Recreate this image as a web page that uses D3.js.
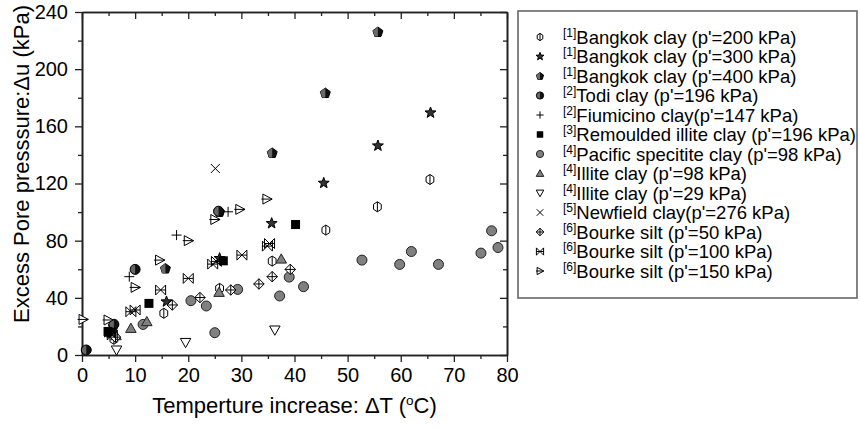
<!DOCTYPE html>
<html><head><meta charset="utf-8">
<script src="https://cdn.jsdelivr.net/npm/d3@7/dist/d3.min.js"></script>
<style>
body{margin:0;background:#fff}
text{font-family:"Liberation Sans",Arial,sans-serif;fill:#000}
</style>
</head><body>
<svg id="chart" width="860" height="430"></svg>
<script>
// ---- tick values ----
const xTicks = [0,10,20,30,40,50,60,70,80];
const xMinor = [5,15,25,35,45,55,65,75];
const yTicks = [0,40,80,120,160,200,240];
const yMinor = [20,60,100,140,180,220];

// ---- series ([ΔT, Δu]) ----
const bangkok200 = [[6.0,11],[15.4,29.2],[25.9,46.6],[35.8,65.7],[45.9,87.4],[55.6,103.7],[65.5,122.8]];
const bangkok300 = [[5.6,15.5],[15.9,37.3],[25.9,67.6],[35.7,92.1],[45.5,120.3],[55.7,146.4],[65.6,169.5]];
const bangkok400 = [[5.9,20.5],[15.7,60.6],[25.9,100.2],[35.8,141.5],[45.8,183.4],[55.7,226.1]];
const todi = [[0.8,3.5],[6.0,21.5],[10.0,59.9],[25.7,100.6]];
const fiumicino = [[8.9,54.8],[17.8,83.9],[27.5,100.2]];
const remoulded = [[4.9,16.5],[5.4,15.5],[12.6,36.1],[26.6,65.9],[40.2,91.3]];
const pacific = [[11.5,21.4],[20.5,38.0],[23.4,34.3],[25.0,15.6],[29.3,45.9],[37.2,41.3],[39.0,54.5],[41.7,47.8],[52.7,66.4],[59.8,63.4],[62.0,72.4],[67.1,63.4],[75.1,71.3],[77.1,86.9],[78.3,75.2]];
const illite98 = [[6.4,13.5],[9.2,18.6],[12.2,23.3],[25.8,43.8],[37.5,67.1]];
const illite29 = [[6.5,3.5],[19.5,8.8],[36.3,17.5]];
const newfield = [[25.1,130.5]];
const bourke50 = [[6.3,12.5],[17.0,35.0],[22.2,40.2],[28.0,45.5],[33.3,49.7],[35.8,54.8],[39.2,59.9]];
const bourke100 = [[5.2,16.0],[5.7,14.0],[9.2,30.3],[10.0,31.5],[14.8,45.5],[20.0,53.6],[24.6,63.6],[25.3,65.5],[30.1,69.9],[34.9,76.2],[35.3,78.0]];
const bourke150 = [[0.2,24.9],[4.9,24.5],[10.0,47.3],[14.6,66.4],[20.0,80.0],[25.0,94.8],[29.7,101.9],[34.8,109.1]];

const seriesRefs = ["1","1","1","2","2","3","4","4","4","5","6","6","6"];
const seriesNames = [
  "Bangkok clay (p'=200 kPa)",
  "Bangkok clay (p'=300 kPa)",
  "Bangkok clay (p'=400 kPa)",
  "Todi clay (p'=196 kPa)",
  "Fiumicino clay(p'=147 kPa)",
  "Remoulded illite clay (p'=196 kPa)",
  "Pacific specitite clay (p'=98 kPa)",
  "Illite clay (p'=98 kPa)",
  "Illite clay (p'=29 kPa)",
  "Newfield clay(p'=276 kPa)",
  "Bourke silt (p'=50 kPa)",
  "Bourke silt (p'=100 kPa)",
  "Bourke silt (p'=150 kPa)"
];
const seriesData = [bangkok200,bangkok300,bangkok400,todi,fiumicino,remoulded,pacific,illite98,illite29,newfield,bourke50,bourke100,bourke150];
const seriesSymbols = ["hex","star","pent","halfcircle","plus","square","circle","tri","tridown","x","diamplus","bowtie","rtri"];

// ---- layout ----
const W = 860, H = 430;
const m = {left:82, right:353, top:12, bottom:75};
const svg = d3.select("#chart");
const x = d3.scaleLinear().domain([0,80]).range([m.left, W - m.right]);
const y = d3.scaleLinear().domain([0,240]).range([H - m.bottom, m.top]);

function starPath(s){
  let p = [];
  for(let i=0;i<10;i++){
    const r = i%2===0 ? s*1.15 : s*0.48;
    const a = -Math.PI/2 + i*Math.PI/5;
    p.push([r*Math.cos(a), r*Math.sin(a)]);
  }
  return "M"+p.map(d=>d[0].toFixed(2)+","+d[1].toFixed(2)).join("L")+"Z";
}
function pentPts(s){
  let p=[];
  for(let i=0;i<5;i++){
    const a=-Math.PI/2+i*2*Math.PI/5;
    p.push([s*1.05*Math.cos(a), s*1.05*Math.sin(a)+s*0.08]);
  }
  return p;
}
function drawSymbol(g, type, s){
  const sw = 1;
  if(type==="hex"){
    const w=0.78*s;
    g.append("path").attr("d",`M0,${-s}L${w},${-s/2}L${w},${s/2}L0,${s}L${-w},${s/2}L${-w},${-s/2}ZM0,${-s}L0,${s}`)
      .attr("fill","#fff").attr("stroke","#000").attr("stroke-width",sw);
  } else if(type==="star"){
    g.append("path").attr("d",starPath(s)).attr("fill","#333").attr("stroke","#000").attr("stroke-width",sw);
  } else if(type==="pent"){
    const p=pentPts(s);
    g.append("path").attr("d","M"+p.join("L")+"Z").attr("fill","#111").attr("stroke","#000").attr("stroke-width",sw);
    const left = [[0,p[0][1]],p[4],p[3],[0,p[3][1]]];
    g.append("path").attr("d","M"+left.join("L")+"Z").attr("fill","#6a6a6a");
  } else if(type==="halfcircle"){
    g.append("circle").attr("r",s).attr("fill","#111").attr("stroke","#000").attr("stroke-width",sw);
    g.append("path").attr("d",`M0,${-s+0.6}A${s-0.6},${s-0.6} 0 0 0 0,${s-0.6}Z`).attr("fill","#666");
  } else if(type==="plus"){
    g.append("path").attr("d",`M${-s},0H${s}M0,${-s}V${s}`).attr("stroke","#000").attr("stroke-width",sw).attr("fill","none");
  } else if(type==="square"){
    g.append("rect").attr("x",-s*0.9).attr("y",-s*0.9).attr("width",s*1.8).attr("height",s*1.8).attr("fill","#000");
  } else if(type==="circle"){
    g.append("circle").attr("r",s).attr("fill","#808080").attr("stroke","#222").attr("stroke-width",sw);
  } else if(type==="tri"){
    g.append("path").attr("d",`M0,${-s*1.05}L${s*1.05},${s*0.8}L${-s*1.05},${s*0.8}Z`).attr("fill","#808080").attr("stroke","#222").attr("stroke-width",sw);
  } else if(type==="tridown"){
    g.append("path").attr("d",`M0,${s*1.05}L${s*1.05},${-s*0.8}L${-s*1.05},${-s*0.8}Z`).attr("fill","#fff").attr("stroke","#000").attr("stroke-width",sw);
  } else if(type==="x"){
    const k=s*0.9;
    g.append("path").attr("d",`M${-k},${-k}L${k},${k}M${k},${-k}L${-k},${k}`).attr("stroke","#000").attr("stroke-width",sw).attr("fill","none");
  } else if(type==="diamplus"){
    const k=s*1.05;
    g.append("path").attr("d",`M0,${-k}L${k},0L0,${k}L${-k},0ZM${-k},0H${k}M0,${-k}V${k}`).attr("fill","#fff").attr("stroke","#000").attr("stroke-width",sw);
  } else if(type==="bowtie"){
    const k=s;
    g.append("path").attr("d",`M${-k},${-k}L${k},${k}L${k},${-k}L${-k},${k}ZM${-k},0H${k}`).attr("fill","#fff").attr("fill-opacity",0).attr("stroke","#000").attr("stroke-width",sw);
  } else if(type==="rtri"){
    const k=s;
    g.append("path").attr("d",`M${k*1.05},0L${-k*0.8},${-k}L${-k*0.8},${k}ZM${-k*1.1},0H${k*1.05}`).attr("fill","#fff").attr("stroke","#000").attr("stroke-width",sw);
  }
}

// ---- axes ----
const axisColor = "#222";
function styleAxis(g, labels){
  g.selectAll("path.domain").attr("stroke",axisColor).attr("stroke-width",1.6);
  g.selectAll(".tick line").attr("stroke",axisColor).attr("stroke-width",1.3);
  g.selectAll(".tick text").style("font-size","20px").attr("fill","#000");
  if(!labels) g.selectAll(".tick text").remove();
}
const gx = svg.append("g").attr("transform",`translate(0,${y(0)})`)
  .call(d3.axisBottom(x).tickValues(xTicks).tickSize(7).tickSizeOuter(0).tickPadding(6).tickFormat(d3.format("d")));
styleAxis(gx,true);
const gxm = svg.append("g").attr("transform",`translate(0,${y(0)})`)
  .call(d3.axisBottom(x).tickValues(xMinor).tickSize(4).tickSizeOuter(0));
styleAxis(gxm,false);
const gxt = svg.append("g").attr("transform",`translate(0,${y(240)})`)
  .call(d3.axisTop(x).tickValues(xTicks).tickSize(-7).tickSizeOuter(0));
styleAxis(gxt,false);
const gxtm = svg.append("g").attr("transform",`translate(0,${y(240)})`)
  .call(d3.axisTop(x).tickValues(xMinor).tickSize(-4).tickSizeOuter(0));
styleAxis(gxtm,false);

const gy = svg.append("g").attr("transform",`translate(${x(0)},0)`)
  .call(d3.axisLeft(y).tickValues(yTicks).tickSize(7).tickSizeOuter(0).tickPadding(7).tickFormat(d3.format("d")));
styleAxis(gy,true);
const gym = svg.append("g").attr("transform",`translate(${x(0)},0)`)
  .call(d3.axisLeft(y).tickValues(yMinor).tickSize(4).tickSizeOuter(0));
styleAxis(gym,false);
const gyr = svg.append("g").attr("transform",`translate(${x(80)},0)`)
  .call(d3.axisRight(y).tickValues(yTicks).tickSize(-7).tickSizeOuter(0));
styleAxis(gyr,false);
const gyrm = svg.append("g").attr("transform",`translate(${x(80)},0)`)
  .call(d3.axisRight(y).tickValues(yMinor).tickSize(-4).tickSizeOuter(0));
styleAxis(gyrm,false);

// ---- axis titles ----
const xt = svg.append("text").attr("x",(x(0)+x(80))/2).attr("y",413)
  .attr("text-anchor","middle").style("font-size","22px");
xt.append("tspan").text("Temperture increase: \u0394T (");
xt.append("tspan").attr("dy",-8).style("font-size","13.5px").text("o");
xt.append("tspan").attr("dy",8).text("C)");

svg.append("text").attr("transform",`translate(29,164) rotate(-90)`)
  .attr("text-anchor","middle").style("font-size","22px")
  .text("Excess Pore presssure:\u0394u (kPa)");

// ---- data points ----
seriesData.forEach((data,i)=>{
  const g = svg.append("g");
  data.forEach(d=>{
    const p = g.append("g").attr("transform",`translate(${x(d[0])},${y(d[1])})`);
    drawSymbol(p, seriesSymbols[i], 5);
  });
});

// ---- legend ----
const lg = svg.append("g");
lg.append("rect").attr("x",518).attr("y",11).attr("width",339).attr("height",287)
  .attr("fill","#fff").attr("stroke","#666").attr("stroke-width",1.6);
const rowY = d3.scalePoint().domain(d3.range(seriesNames.length)).range([37,271]);
seriesNames.forEach((name,i)=>{
  const cy = rowY(i);
  const p = lg.append("g").attr("transform",`translate(540,${cy})`);
  drawSymbol(p, seriesSymbols[i], 3.6);
  const t = lg.append("text").attr("x",563).attr("y",cy+6.5).style("font-size","18.5px");
  t.append("tspan").attr("dy",-7).style("font-size","12px").text("["+seriesRefs[i]+"]");
  t.append("tspan").attr("dy",7).text(name);
});
</script>
</body></html>
